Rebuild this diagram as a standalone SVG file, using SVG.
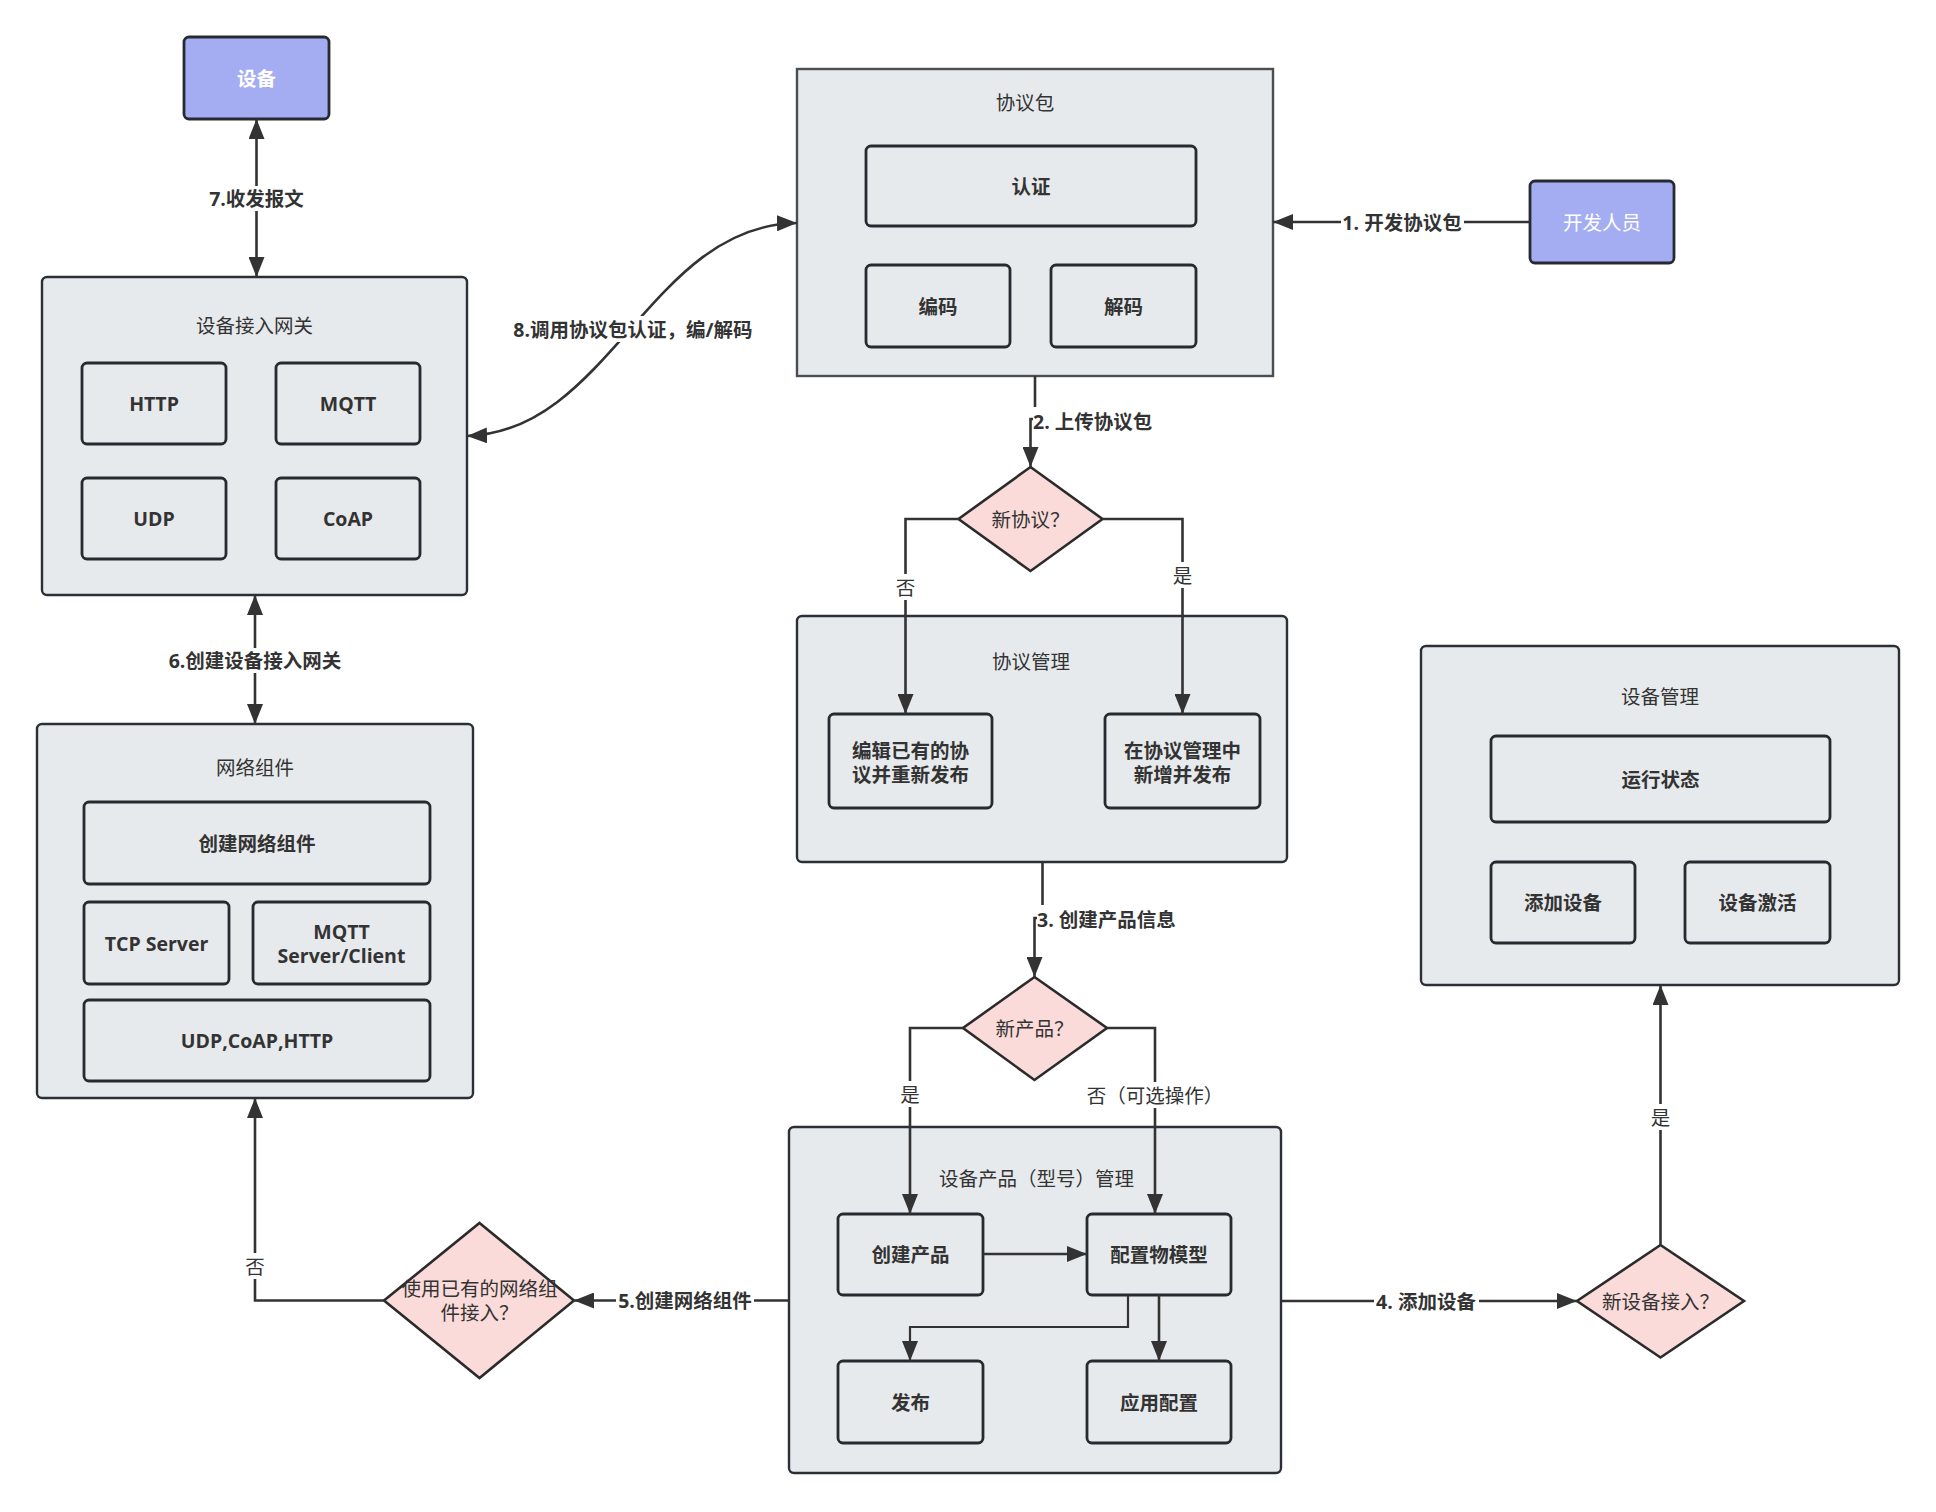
<svg xmlns="http://www.w3.org/2000/svg" width="1936" height="1512" viewBox="0 0 1936 1512">
<defs>
<style>
text{font-family:"Open Sans","Noto Sans CJK SC",sans-serif;font-size:19.5px;fill:#333;text-anchor:middle;dominant-baseline:central}
.b{font-weight:bold}
.w{fill:#fff}
.cont{fill:#e7eaed;stroke:#2b2f36;stroke-width:2.4}
.node{fill:#e7eaed;stroke:#262a31;stroke-width:2.8}
.dev{fill:#a4adf1;stroke:#262a31;stroke-width:2.8}
.dia{fill:#fadbd9;stroke:#2b2b2b;stroke-width:2.6}
.ln{fill:none;stroke:#333;stroke-width:2.6}
.bg{fill:#fff}
</style>
<marker id="ar" viewBox="0 0 20 16" refX="20" refY="8" markerWidth="20" markerHeight="16" markerUnits="userSpaceOnUse" orient="auto-start-reverse">
<path d="M0,0 L20,8 L0,16 Z" fill="#333"/>
</marker>
</defs>
<rect width="1936" height="1512" fill="#fff"/>

<g id="device">
<rect class="dev" x="184" y="37" width="145" height="82" rx="5"/>
<text class="b w" x="256.5" y="78">设备</text>
</g>

<g id="developer">
<rect class="dev" x="1530" y="181" width="144" height="82" rx="5"/>
<text class="w" x="1602" y="222">开发人员</text>
</g>

<g id="gateway">
<rect class="cont" x="42" y="277" width="425" height="318" rx="5"/>
<text x="254.5" y="325">设备接入网关</text>
<rect class="node" x="82" y="363" width="144" height="81" rx="5"/>
<text class="b" x="154" y="403.5">HTTP</text>
<rect class="node" x="276" y="363" width="144" height="81" rx="5"/>
<text class="b" x="348" y="403.5">MQTT</text>
<rect class="node" x="82" y="478" width="144" height="81" rx="5"/>
<text class="b" x="154" y="518.5">UDP</text>
<rect class="node" x="276" y="478" width="144" height="81" rx="5"/>
<text class="b" x="348" y="518.5">CoAP</text>
</g>

<g id="network">
<rect class="cont" x="37" y="724" width="436" height="374" rx="5"/>
<text x="255" y="767">网络组件</text>
<rect class="node" x="84" y="802" width="346" height="82" rx="5"/>
<text class="b" x="257" y="843">创建网络组件</text>
<rect class="node" x="84" y="902" width="145" height="82" rx="5"/>
<text class="b" x="156.5" y="943">TCP Server</text>
<rect class="node" x="253" y="902" width="177" height="82" rx="5"/>
<text class="b" x="341.5" y="931">MQTT</text>
<text class="b" x="341.5" y="955">Server/Client</text>
<rect class="node" x="84" y="1000" width="346" height="81" rx="5"/>
<text class="b" x="257" y="1040.5">UDP,CoAP,HTTP</text>
</g>

<g id="protocol-pack">
<rect class="cont" x="797" y="69" width="476" height="307" style="stroke:#4a4d52"/>
<text x="1025" y="102">协议包</text>
<rect class="node" x="866" y="146" width="330" height="80" rx="5"/>
<text class="b" x="1031" y="186">认证</text>
<rect class="node" x="866" y="265" width="144" height="82" rx="5"/>
<text class="b" x="938" y="306">编码</text>
<rect class="node" x="1051" y="265" width="145" height="82" rx="5"/>
<text class="b" x="1123.5" y="306">解码</text>
</g>

<g id="new-protocol">
<polygon class="dia" points="1030.5,467 1102.5,519 1030.5,571 958.5,519"/>
<text x="1030.5" y="519">新协议？</text>
</g>

<g id="protocol-mgmt">
<rect class="cont" x="797" y="616" width="490" height="246" rx="5"/>
<text x="1031" y="661">协议管理</text>
<rect class="node" x="829" y="714" width="163" height="94" rx="5"/>
<text class="b" x="910.5" y="750">编辑已有的协</text>
<text class="b" x="910.5" y="774">议并重新发布</text>
<rect class="node" x="1105" y="714" width="155" height="94" rx="5"/>
<text class="b" x="1182.5" y="750">在协议管理中</text>
<text class="b" x="1182.5" y="774">新增并发布</text>
</g>

<g id="new-product">
<polygon class="dia" points="1034.5,977 1107,1028 1034.5,1080 963,1028"/>
<text x="1034.5" y="1028.5">新产品？</text>
</g>

<g id="product-mgmt">
<rect class="cont" x="789" y="1127" width="492" height="346" rx="5"/>
<text x="1036.5" y="1178">设备产品（型号）管理</text>
<rect class="node" x="838" y="1214" width="145" height="81" rx="5"/>
<text class="b" x="910.5" y="1254.5">创建产品</text>
<rect class="node" x="1087" y="1214" width="144" height="81" rx="5"/>
<text class="b" x="1159" y="1254.5">配置物模型</text>
<rect class="node" x="838" y="1361" width="145" height="82" rx="5"/>
<text class="b" x="910.5" y="1402">发布</text>
<rect class="node" x="1087" y="1361" width="144" height="82" rx="5"/>
<text class="b" x="1159" y="1402">应用配置</text>
</g>

<g id="use-existing">
<polygon class="dia" points="479.5,1223 574,1300.5 479.5,1378 384,1300.5"/>
<text x="479.5" y="1288.5">使用已有的网络组</text>
<text x="479.5" y="1312.5">件接入？</text>
</g>

<g id="new-device">
<polygon class="dia" points="1660.5,1245 1744,1301 1660.5,1357.5 1577,1301"/>
<text x="1660.5" y="1301">新设备接入？</text>
</g>

<g id="device-mgmt">
<rect class="cont" x="1421" y="646" width="478" height="339" rx="5"/>
<text x="1660" y="696">设备管理</text>
<rect class="node" x="1491" y="736" width="339" height="86" rx="5"/>
<text class="b" x="1660.5" y="779">运行状态</text>
<rect class="node" x="1491" y="862" width="144" height="81" rx="5"/>
<text class="b" x="1563" y="902.5">添加设备</text>
<rect class="node" x="1685" y="862" width="145" height="81" rx="5"/>
<text class="b" x="1757.5" y="902.5">设备激活</text>
</g>

<g id="connectors">
<line class="ln" x1="256.5" y1="119" x2="256.5" y2="277" marker-start="url(#ar)" marker-end="url(#ar)"/>
<rect class="bg" x="207" y="186" width="100" height="25"/>
<text class="b" x="256.5" y="198">7.收发报文</text>

<line class="ln" x1="255" y1="595" x2="255" y2="724" marker-start="url(#ar)" marker-end="url(#ar)"/>
<rect class="bg" x="167" y="648" width="176" height="25"/>
<text class="b" x="255" y="660">6.创建设备接入网关</text>

<path class="ln" d="M467,436 C610,432 650,225 797,223" marker-start="url(#ar)" marker-end="url(#ar)"/>
<rect class="bg" x="511" y="316" width="244" height="26"/>
<text class="b" x="633" y="329">8.调用协议包认证，编/解码</text>

<line class="ln" x1="1530" y1="222" x2="1273" y2="222" marker-end="url(#ar)"/>
<rect class="bg" x="1341" y="209" width="123" height="26"/>
<text class="b" x="1402" y="222">1. 开发协议包</text>

<path class="ln" d="M1035,376 V419 H1030.5 V467" marker-end="url(#ar)"/>
<rect class="bg" x="1033" y="407" width="122" height="29"/>
<text class="b" x="1033" y="421.5" style="text-anchor:start">2. 上传协议包</text>

<path class="ln" d="M958.5,519 H905.5 V714" marker-end="url(#ar)"/>
<rect class="bg" x="894" y="574" width="23" height="26"/>
<text x="905.5" y="587">否</text>
<path class="ln" d="M1102.5,519 H1182.5 V714" marker-end="url(#ar)"/>
<rect class="bg" x="1171" y="562" width="23" height="26"/>
<text x="1182.5" y="575">是</text>

<path class="ln" d="M1042.5,862 V918 H1034.5 V977" marker-end="url(#ar)"/>
<rect class="bg" x="1037" y="905" width="142" height="29"/>
<text class="b" x="1037" y="919.5" style="text-anchor:start">3. 创建产品信息</text>

<path class="ln" d="M963,1028 H910 V1214" marker-end="url(#ar)"/>
<rect class="bg" x="898" y="1081" width="24" height="26"/>
<text x="910" y="1094">是</text>
<path class="ln" d="M1107,1028 H1155 V1214" marker-end="url(#ar)"/>
<rect class="bg" x="1084" y="1082" width="140" height="26"/>
<text x="1155" y="1095">否（可选操作）</text>

<line class="ln" x1="983" y1="1254" x2="1087" y2="1254" marker-end="url(#ar)"/>
<path class="ln" d="M1128,1295 V1327 H910 V1361" style="stroke-width:2.2" marker-end="url(#ar)"/>
<line class="ln" x1="1159" y1="1295" x2="1159" y2="1361" marker-end="url(#ar)"/>

<line class="ln" x1="789" y1="1300.5" x2="574" y2="1300.5" marker-end="url(#ar)"/>
<rect class="bg" x="616" y="1288" width="138" height="26"/>
<text class="b" x="685" y="1300.5">5.创建网络组件</text>

<path class="ln" d="M384,1300.5 H255 V1098" marker-end="url(#ar)"/>
<rect class="bg" x="243" y="1253" width="24" height="26"/>
<text x="255" y="1266">否</text>

<line class="ln" x1="1281" y1="1301" x2="1577" y2="1301" marker-end="url(#ar)"/>
<rect class="bg" x="1374" y="1288" width="105" height="26"/>
<text class="b" x="1426" y="1301">4. 添加设备</text>

<line class="ln" x1="1660.5" y1="1245" x2="1660.5" y2="985" marker-end="url(#ar)"/>
<rect class="bg" x="1648" y="1104" width="25" height="26"/>
<text x="1660.5" y="1117">是</text>
</g>
</svg>
